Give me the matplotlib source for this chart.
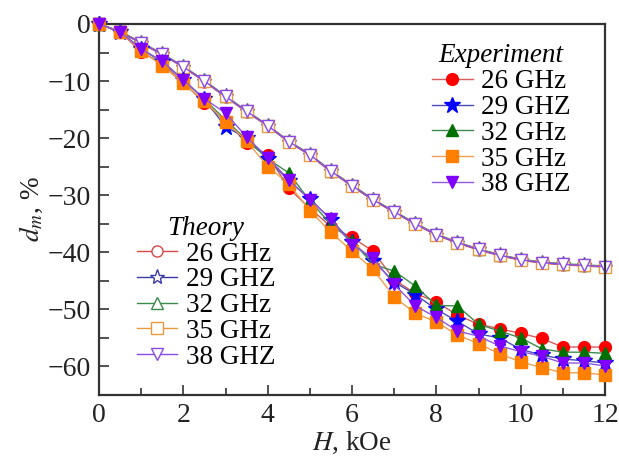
import numpy as np
import matplotlib
matplotlib.use("Agg")
import matplotlib.pyplot as plt
from matplotlib.ticker import MultipleLocator

plt.rcParams['font.family'] = 'Liberation Serif'
plt.rcParams['mathtext.fontset'] = 'stix'
plt.rcParams['font.size'] = 19

# Magnetic field, kOe
H = np.arange(0, 12.01, 0.5)

labels = ["26 GHz", "29 GHZ", "32 GHz", "35 GHz", "38 GHZ"]

# Experiment, d_m in %
exp_26 = [0, -1.4, -4.9, -6.9, -10.3, -13.8, -17.0, -20.8, -22.9, -28.8, -32.3, -35.5, -37.4,
          -39.8, -44.8, -47.2, -48.7, -51.0, -52.6, -53.4, -54.2, -55.1, -56.6, -56.6, -56.6]
exp_29 = [0, -1.4, -4.4, -6.6, -9.8, -13.2, -18.0, -20.0, -23.6, -27.5, -30.6, -34.3, -38.2,
          -41.5, -45.2, -47.4, -50.0, -52.1, -54.3, -55.0, -57.0, -58.0, -58.7, -59.0, -59.4]
exp_32 = [0, -1.3, -4.4, -6.6, -9.8, -13.2, -16.8, -20.3, -23.6, -26.1, -31.0, -35.1, -38.0,
          -42.1, -43.3, -45.9, -49.3, -49.4, -52.6, -53.8, -55.0, -56.9, -57.5, -57.5, -57.7]
exp_35 = [0, -1.4, -4.7, -7.3, -10.4, -13.5, -17.1, -20.5, -25.0, -28.0, -32.7, -36.5, -39.8,
          -43.0, -47.8, -50.7, -52.2, -54.5, -56.0, -57.8, -59.2, -60.2, -61.1, -61.1, -61.5]
exp_38 = [0, -1.4, -4.4, -6.5, -9.8, -13.1, -15.6, -19.8, -23.4, -27.3, -30.8, -34.1, -38.7,
          -41.0, -45.6, -49.4, -51.4, -53.8, -54.7, -56.4, -57.4, -58.2, -59.4, -59.4, -59.9]

# Theory, d_m in %
th_26 = [0, -1.4, -3.4, -5.4, -7.6, -10.1, -12.8, -15.4, -17.9, -20.7, -23.0, -25.9, -28.4,
         -30.9, -33.0, -35.1, -37.0, -38.4, -39.6, -40.6, -41.4, -41.9, -42.2, -42.4, -42.6]
th_29 = [0, -1.4, -3.3, -5.3, -7.5, -10.0, -12.7, -15.3, -17.8, -20.6, -22.9, -25.8, -28.3,
         -30.8, -32.9, -35.0, -36.9, -38.3, -39.5, -40.5, -41.3, -41.8, -42.1, -42.3, -42.5]
th_32 = [0, -1.3, -3.2, -5.2, -7.4, -9.9, -12.6, -15.2, -17.7, -20.5, -22.8, -25.7, -28.2,
         -30.7, -32.8, -34.9, -36.8, -38.2, -39.4, -40.4, -41.2, -41.7, -42.0, -42.2, -42.4]
th_35 = [0, -1.4, -3.3, -5.3, -7.5, -10.0, -12.7, -15.3, -17.8, -20.6, -22.9, -25.8, -28.3,
         -30.8, -32.9, -35.0, -36.9, -38.3, -39.5, -40.5, -41.3, -41.8, -42.1, -42.3, -42.5]
th_38 = [0, -1.4, -3.3, -5.3, -7.5, -10.0, -12.7, -15.3, -17.8, -20.6, -22.9, -25.8, -28.3,
         -30.8, -32.9, -35.0, -36.9, -38.3, -39.5, -40.5, -41.3, -41.8, -42.1, -42.3, -42.5]

exp_data = [exp_26, exp_29, exp_32, exp_35, exp_38]
th_data = [th_26, th_29, th_32, th_35, th_38]

markers = ["o", "*", "^", "s", "v"]
exp_colors = ["#ff0000", "#0000ff", "#007000", "#ff8000", "#8000ff"]
line_colors = ["#d85a5a", "#4a4ab8", "#3f8a4f", "#f0a050", "#9058e0"]
th_colors = ["#d84848", "#3a3aa8", "#3a8a4a", "#e89a40", "#8a4ae8"]

fig = plt.figure(figsize=(6.19, 4.57), dpi=100)
ax = fig.add_axes([0.16, 0.1357, 0.8174, 0.8118])

# Theory curves (open markers)
th_lines = []
for y, m, c in zip(th_data, markers, th_colors):
    ms = 11 if m == "*" else 8
    l, = ax.plot(H, y, marker=m, color=c, lw=1, markersize=ms,
                 markerfacecolor="white", markeredgecolor=c, markeredgewidth=1,
                 clip_on=False, zorder=2)
    th_lines.append(l)

# Experiment curves (filled markers)
exp_lines = []
for y, m, c, lc in zip(exp_data, markers, exp_colors, line_colors):
    ms = 12 if m == "*" else 8.5
    l, = ax.plot(H, y, marker=m, color=lc, lw=1, markersize=ms,
                 markerfacecolor=c, markeredgecolor=c, clip_on=False, zorder=3)
    exp_lines.append(l)

ax.set_xlim(0, 12)
ax.set_ylim(-65, 0)
ax.xaxis.set_major_locator(MultipleLocator(2))
ax.xaxis.set_minor_locator(MultipleLocator(1))
ax.yaxis.set_major_locator(MultipleLocator(10))
ax.yaxis.set_minor_locator(MultipleLocator(5))
ax.tick_params(which="both", direction="in", width=1.2, colors="#333333",
               labelcolor="#222222", labelsize=20)
ax.tick_params(which="major", length=7, pad=6)
ax.tick_params(which="minor", length=5)
ax.tick_params(axis="y", which="minor", length=7)
for s in ax.spines.values():
    s.set_linewidth(1.6)
    s.set_color("#333333")

ax.set_xlabel("$H$, kOe", fontsize=19.5, labelpad=1, color="#222222")
ax.set_ylabel("$d_m$, %", fontsize=19.5, labelpad=2, color="#222222")

leg_kw = dict(loc="upper left", bbox_transform=fig.transFigure, frameon=False,
              fontsize=19.5, handlelength=1.5, handletextpad=0.3,
              labelspacing=0.03, borderpad=0, borderaxespad=0)

leg1 = ax.legend(exp_lines, labels, title="Experiment",
                 bbox_to_anchor=(0.698, 0.905), **leg_kw)
leg1.get_title().set_fontstyle("italic")
leg1.get_title().set_fontsize(19.5)
ax.add_artist(leg1)

leg2 = ax.legend(th_lines, labels, title="Theory",
                 bbox_to_anchor=(0.221, 0.528), **leg_kw)
leg2.get_title().set_fontstyle("italic")
leg2.get_title().set_fontsize(19.5)

fig.savefig("out.png", dpi=100)
